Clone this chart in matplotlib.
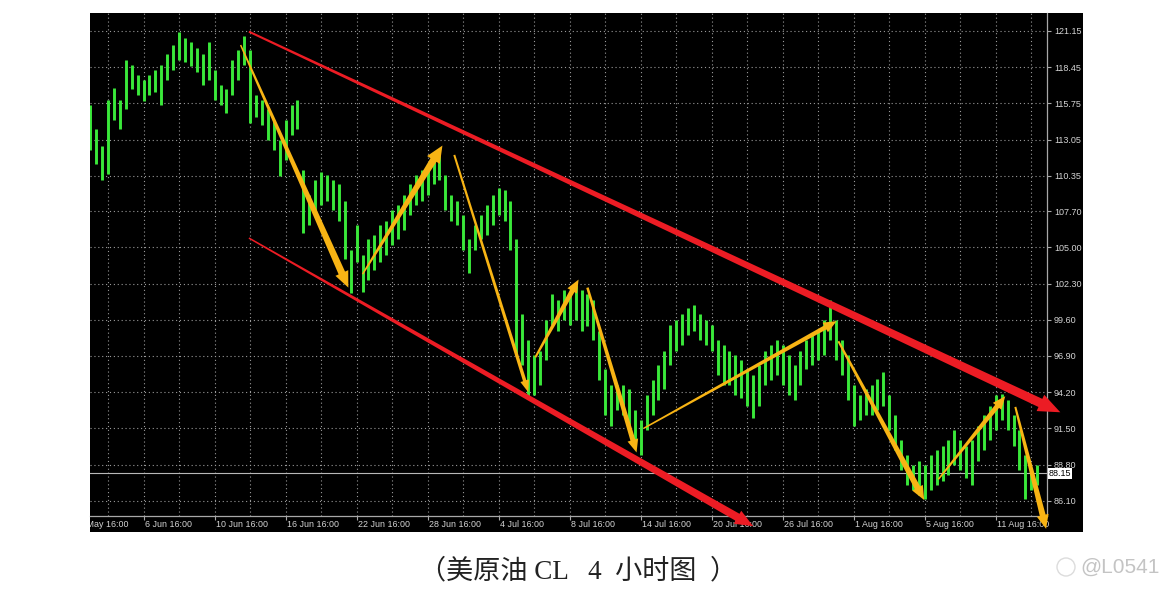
import numpy as np
import matplotlib
matplotlib.use("Agg")
import matplotlib.pyplot as plt
from matplotlib.patches import Polygon, Rectangle, Circle
from matplotlib.transforms import IdentityTransform, blended_transform_factory

bar_high = [115.6, 113.8, 112.6, 116.0, 116.9, 116.0, 119.0, 118.6, 117.9, 117.5,
            117.9, 118.2, 118.6, 119.4, 120.1, 121.1, 120.6, 120.3, 119.9, 119.4,
            120.3, 118.2, 117.1, 116.8, 119.0, 119.7, 120.8, 119.7, 116.4, 116.0,
            115.3, 114.5, 113.0, 114.5, 115.6, 116.0, 110.8, 108.9, 110.0, 110.6,
            110.4, 110.0, 109.7, 108.5, 104.8, 106.7, 104.4, 105.6, 105.9, 106.7,
            107.0, 107.8, 108.2, 108.9, 109.7, 110.4, 110.8, 111.1, 111.9, 112.3,
            110.4, 108.9, 108.5, 107.4, 105.6, 106.7, 107.4, 108.2, 108.9, 109.4,
            109.3, 108.5, 105.6, 100.0, 98.1, 97.0, 97.3, 99.6, 101.5, 101.1,
            101.8, 101.7, 102.2, 101.8, 101.5, 101.1, 98.8, 95.9, 94.7, 94.7,
            94.7, 94.4, 92.9, 92.1, 94.0, 95.1, 96.2, 97.3, 99.2, 99.6,
            100.0, 100.5, 100.7, 100.0, 99.6, 99.2, 98.1, 97.7, 97.3, 97.0,
            96.6, 95.9, 95.5, 96.2, 97.3, 97.7, 98.1, 97.7, 97.0, 96.2,
            97.3, 98.1, 98.5, 98.8, 99.6, 101.1, 99.6, 98.1, 97.0, 94.7,
            94.0, 94.4, 94.7, 95.2, 95.7, 94.0, 92.5, 90.6, 89.5, 88.8,
            89.1, 88.8, 89.5, 89.9, 90.2, 90.6, 91.4, 90.6, 90.2, 90.6,
            91.7, 92.5, 93.2, 94.0, 94.1, 93.6, 92.5, 91.4, 89.5, 88.4, 88.8]
bar_low = [112.3, 111.2, 110.0, 110.5, 114.5, 113.8, 115.3, 116.8, 116.4, 115.9,
           116.4, 116.6, 115.6, 117.5, 118.2, 119.0, 118.8, 118.5, 118.1, 117.1,
           117.5, 116.0, 115.6, 115.0, 116.4, 117.5, 118.6, 114.3, 114.7, 114.1,
           113.0, 112.3, 110.3, 111.5, 113.4, 113.8, 106.1, 106.7, 107.8, 108.2,
           108.5, 107.8, 107.0, 104.1, 101.6, 103.9, 101.7, 102.6, 103.3, 103.9,
           104.4, 105.2, 105.6, 106.3, 107.4, 108.2, 108.5, 108.9, 109.7, 110.0,
           107.8, 107.0, 106.7, 104.8, 103.1, 104.8, 105.6, 105.9, 106.7, 107.4,
           107.0, 104.8, 97.0, 96.2, 93.8, 94.0, 94.7, 96.6, 99.2, 98.8,
           99.6, 99.2, 99.6, 98.8, 99.1, 98.1, 95.1, 92.5, 91.7, 92.9,
           92.5, 91.7, 90.6, 89.5, 91.4, 92.5, 93.6, 94.4, 96.2, 97.3,
           97.7, 98.5, 98.8, 98.1, 97.7, 97.3, 95.5, 94.7, 94.7, 94.0,
           93.8, 93.2, 92.3, 93.2, 94.7, 95.1, 95.5, 94.7, 94.0, 93.6,
           94.7, 95.9, 96.2, 96.6, 97.0, 98.1, 96.6, 95.5, 93.6, 91.7,
           92.1, 92.5, 92.5, 92.9, 93.2, 91.4, 89.9, 88.4, 87.3, 86.9,
           86.5, 86.2, 86.9, 87.3, 87.6, 88.0, 88.8, 88.4, 87.8, 87.3,
           89.1, 89.9, 90.6, 91.4, 92.1, 91.4, 90.2, 88.4, 86.2, 86.9, 87.3]

price_ticks = [121.15, 118.45, 115.75, 113.05, 110.35, 107.70, 105.00,
               102.30, 99.60, 96.90, 94.20, 91.50, 88.80, 86.10]
date_labels = ["31 May 16:00", "6 Jun 16:00", "10 Jun 16:00", "16 Jun 16:00",
               "22 Jun 16:00", "28 Jun 16:00", "4 Jul 16:00", "8 Jul 16:00",
               "14 Jul 16:00", "20 Jul 16:00", "26 Jul 16:00", "1 Aug 16:00",
               "5 Aug 16:00", "11 Aug 16:00"]
date_bars = [-3, 9, 21, 33, 45, 57, 69, 81, 93, 105, 117, 129, 141, 153]
last_price = 88.15

# hand-drawn wave arrows, (bar index, price)
wave_from_bar = [25.4, 46.0, 61.5, 75.2, 84.0, 93.5, 126.4, 143.3, 156.3]
wave_from_price = [120.1, 103.0, 111.9, 96.8, 102.0, 91.5, 98.0, 87.7, 93.1]
wave_to_bar = [43.6, 59.5, 74.0, 82.5, 92.3, 126.1, 140.9, 154.6, 161.5]
wave_to_price = [102.0, 112.6, 94.2, 102.6, 89.7, 99.5, 86.15, 93.9, 84.0]

# falling channel
channel_from_bar = [26.8, 26.8]
channel_from_price = [121.1, 105.7]
channel_to_bar = [163.9, 112.0]
channel_to_price = [92.7, 84.2]

# arrow shapes in pixels: tail width, shaft width at head, head width, head length
wave_shapes = [(1.5, 7, 14, 16), (1.5, 7, 15, 17), (2, 3.5, 9, 12),
               (2, 5, 11, 13), (2.5, 5, 11, 13), (1.5, 4.5, 11, 13),
               (2, 6, 12, 14), (1.5, 5, 11, 13), (2, 6, 12, 14)]
channel_shapes = [(2, 9, 18, 22), (1.5, 8, 15, 18)]

W, H = 1170, 603
GRID = '#9a9a9a'
LABEL = '#d4d4d4'
CAPTION_FONT = ['Liberation Serif', 'Noto Sans CJK SC']


def tapered_arrow(ax, p0, p1, shape, color, z):
    """Arrow that widens from tail to head, built in pixel space."""
    w0, w1, hw, hl = shape
    a = ax.transData.transform(p0)
    b = ax.transData.transform(p1)
    d = b - a
    u = d / np.hypot(*d)
    n = np.array([-u[1], u[0]])
    base = b - u * hl
    pts = [a + n * w0 / 2, base + n * w1 / 2, base + n * hw / 2, b,
           base - n * hw / 2, base - n * w1 / 2, a - n * w0 / 2]
    ax.add_patch(Polygon(pts, closed=True, transform=IdentityTransform(),
                         facecolor=color, edgecolor='none', clip_on=False, zorder=z))


fig = plt.figure(figsize=(W / 100, H / 100), dpi=100)
fig.patch.set_facecolor('white')

# black terminal backdrop
fig.add_artist(Rectangle((90 / W, (H - 532) / H), 993 / W, 519 / H,
                         transform=fig.transFigure, facecolor='black',
                         edgecolor='none', zorder=0))

xmin, xmax = -0.05, 161.65
px_per_bar = 957 / (xmax - xmin)

# date strip under the chart
strip = fig.add_axes([90 / W, (H - 532) / H, 993 / W, 16 / H])
strip.set_facecolor('black')
strip.set_xlim(xmin, xmin + 993 / px_per_bar)
strip.set_ylim(0, 1)
strip.axis('off')
for b, lab in zip(date_bars, date_labels):
    strip.text(b + 0.2, 0.45, lab, ha='left', va='center', color=LABEL,
               fontsize=6.4, family='Liberation Sans', clip_on=True)

ax = fig.add_axes([90 / W, (H - 516) / H, 957 / W, 503 / H])
ax.set_facecolor('black')
ax.set_xlim(xmin, xmax)
ax.set_ylim(84.96, 122.49)

for side in ['top', 'left']:
    ax.spines[side].set_visible(False)
for side in ['right', 'bottom']:
    ax.spines[side].set_color('#a8a8a8')
    ax.spines[side].set_linewidth(0.9)

ax.yaxis.tick_right()
ax.set_yticks(price_ticks)
ax.set_yticklabels([f"{p:.2f}" for p in price_ticks])
ax.tick_params(axis='y', colors='#a8a8a8', labelcolor=LABEL, labelsize=6.5,
               length=3, width=0.8, pad=2)
ax.set_xticks(date_bars[1:])
ax.tick_params(axis='x', colors='#a8a8a8', length=3, width=0.8, labelbottom=False)
for lab in ax.get_yticklabels():
    lab.set_family('Liberation Sans')

# dotted terminal grid
for p in price_ticks:
    ax.axhline(p, color=GRID, lw=0.8, ls=(0, (1, 2.5)), zorder=1)
for g in np.arange(3, xmax, 6):
    ax.axvline(g, color=GRID, lw=0.8, ls=(0, (1, 2.5)), zorder=1)

idx = np.arange(len(bar_high))
ax.vlines(idx, bar_low, bar_high, color='#3ae83a', lw=2.1, zorder=3)

# last price line and tag
ax.axhline(last_price, color='#b8b8b8', lw=0.8, zorder=2)
tag_tr = blended_transform_factory(ax.transAxes, ax.transData)
ax.text(1.002, last_price, f"{last_price:.2f}", transform=tag_tr, ha='left',
        va='center', fontsize=6.5, family='Liberation Sans', color='black',
        bbox=dict(boxstyle='square,pad=0.12', facecolor='white', edgecolor='none'),
        zorder=5)

for i in range(len(channel_from_bar)):
    tapered_arrow(ax, (channel_from_bar[i], channel_from_price[i]),
                  (channel_to_bar[i], channel_to_price[i]),
                  channel_shapes[i], '#ec1c24', 6)

for i in range(len(wave_from_bar)):
    tapered_arrow(ax, (wave_from_bar[i], wave_from_price[i]),
                  (wave_to_bar[i], wave_to_price[i]),
                  wave_shapes[i], '#f8b414', 7)

fig.text(419 / W, (H - 572) / H, "（美原油 CL   4  小时图  ）", ha='left', va='center',
         fontsize=19.5, color='#222222', family=CAPTION_FONT)

# watermark
fig.add_artist(Circle((1066, H - 567), 9, transform=IdentityTransform(),
                      facecolor='none', edgecolor='#dcdcdc', lw=1.0))
fig.text(1080 / W, (H - 567) / H, "@L0541", ha='left', va='center',
         fontsize=15, color='#c4c4c4', family='Liberation Sans')

fig.savefig('out.png', dpi=100, facecolor='white')
